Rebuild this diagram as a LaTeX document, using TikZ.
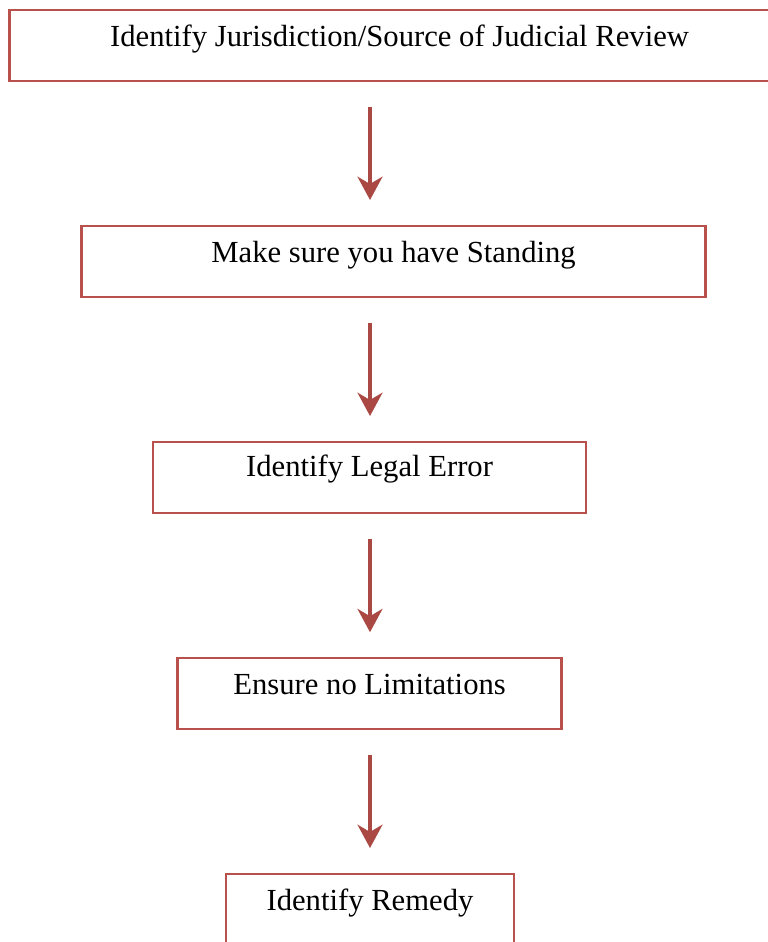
\documentclass[tikz,border=0pt]{standalone}
\usepackage{fontspec}
\setmainfont{Liberation Serif}
\usetikzlibrary{positioning,arrows.meta,calc}
\definecolor{boxred}{HTML}{B8504B}
\definecolor{arrowred}{HTML}{AA4843}

\begin{document}
\begin{tikzpicture}[y=-1cm,
    stepbox/.style={draw=boxred, line width=1.6pt, fill=white, inner sep=0pt, anchor=north,
      font=\fontsize{21.8}{26}\selectfont, text height=0.9cm, text depth=0.875cm},
    flowarrow/.style={arrowred, line width=0.1cm, shorten <=0.61cm, shorten >=0.625cm,
      -{Stealth[length=0.58cm, width=0.62cm, inset=0.18cm]}}]
    \path[use as bounding box, clip] (0,0) rectangle (19.2,23.55);
    \node[stepbox, minimum width=19.5cm] (jur) at (9.99,0.225) {Identify Jurisdiction/Source of Judicial Review};
    \node[stepbox, minimum width=15.6cm] (stand) at (9.84,5.625) {Make sure you have Standing};
    \node[stepbox, minimum width=10.82cm, text height=0.87cm, text depth=0.905cm] (legal) at (9.24,11.025) {Identify Legal Error};
    \node[stepbox, minimum width=9.6cm] (limit) at (9.24,16.43) {Ensure no Limitations};
    \node[stepbox, minimum width=7.2cm] (rem) at (9.25,21.825) {Identify Remedy};
    \foreach \a/\b in {jur/stand,stand/legal,legal/limit,limit/rem}
      \draw[flowarrow] (\a.south -| rem.north) -- (\b.north -| rem.north);
  \end{tikzpicture}
\end{document}
